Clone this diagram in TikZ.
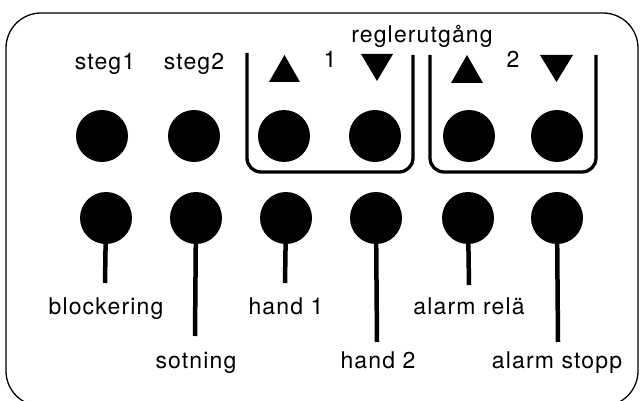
\documentclass[tikz,border=0pt]{standalone}
\usepackage{fontspec}
\setmainfont{TeX Gyre Heros}[LetterSpace=5]
\begin{document}
\begin{tikzpicture}[x=1pt,y=-1pt,
  key/.style={circle,fill=black,minimum size=52pt,inner sep=0pt},
  stem/.style={line width=4.5pt},
  frame/.style={line width=1.3pt,rounded corners=35pt},
  bracket/.style={line width=3.3pt,rounded corners=14pt},
  lbl/.style={anchor=base,inner sep=0pt,font=\fontsize{23}{27}\selectfont},
  arrowup/.style={fill=black},
]
\useasboundingbox (0,0) rectangle (640,401);
\clip (0,0) rectangle (640,401);

% panel outline
\draw[frame] (6,13) rectangle (638,406);

% headings
\node[lbl] (tsteg1) at (105,70) {steg1};
\node[lbl] (tsteg2) at (194,70) {steg2};
\node[lbl] (treg) at (422,43) {reglerutgång};
\node[lbl] (tone) at (330,68) {1};
\node[lbl] (ttwo) at (513,68) {2};

% direction marks
\fill (269,82) -- (300,82) -- (284.5,55) -- cycle;
\fill (361,54) -- (393,54) -- (377,81) -- cycle;
\fill (451,83) -- (483,83) -- (467,55) -- cycle;
\fill (540,55) -- (573,55) -- (556.5,82) -- cycle;

% groups of the controller outputs
\draw[bracket] (247,53) |- (413,172) -- (413,55);
\draw[bracket] (430,55) |- (596,172) -- (596,55);

% upper row of lamps
\node[key] (u1) at (102,136) {};
\node[key] (u2) at (194,136) {};
\node[key] (u3) at (284,136) {};
\node[key] (u4) at (375,136) {};
\node[key] (u5) at (469,136) {};
\node[key] (u6) at (557,136) {};

% lower row of keys
\node[key] (d1) at (106,218) {};
\node[key] (d2) at (196,218) {};
\node[key] (d3) at (286,218) {};
\node[key] (d4) at (376,218) {};
\node[key] (d5) at (468,218) {};
\node[key] (d6) at (557,218) {};

% stem ends
\coordinate (e1) at (105,283);
\coordinate (e2) at (195,336);
\coordinate (e3) at (285,283);
\coordinate (e4) at (377,342);
\coordinate (e5) at (469,285);
\coordinate (e6) at (558,342);

\draw[stem] (d1.center) -- (e1);
\draw[stem] (d2.center) -- (e2);
\draw[stem] (d3.center) -- (e3);
\draw[stem] (d4.center) -- (e4);
\draw[stem] (d5.center) -- (e5);
\draw[stem] (d6.center) -- (e6);

% key labels
\node[lbl] (l1) at (106,314) {blockering};
\node[lbl] (l2) at (196,368) {sotning};
\node[lbl] (l3) at (286,314) {hand 1};
\node[lbl] (l4) at (378,368) {hand 2};
\node[lbl] (l5) at (469,314) {alarm relä};
\node[lbl] (l6) at (557,368) {alarm stopp};
\end{tikzpicture}
\end{document}
